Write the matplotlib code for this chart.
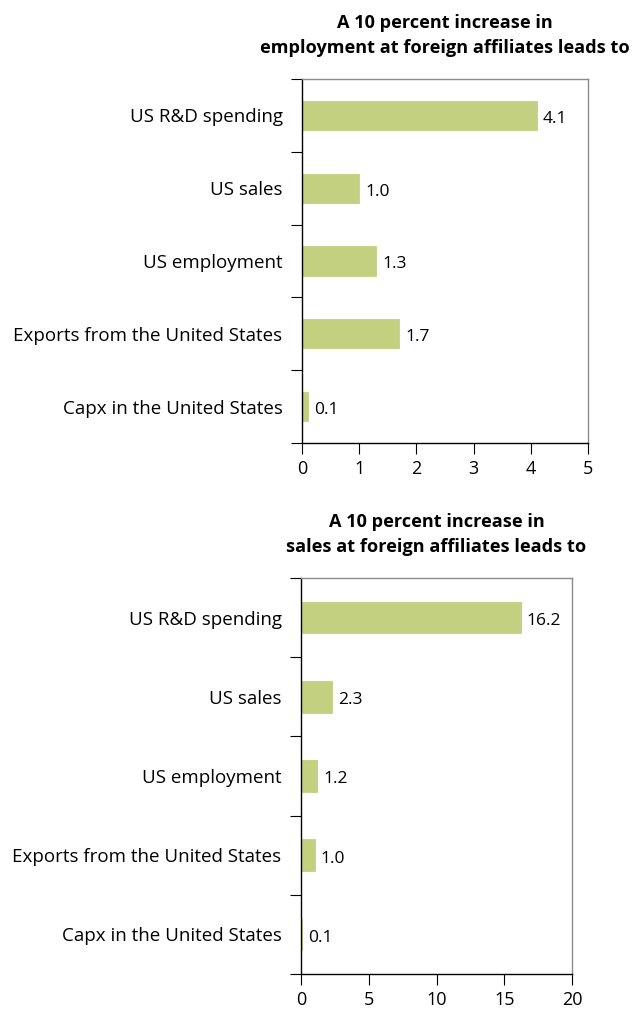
import matplotlib.pyplot as plt
import numpy as np

plt.rcParams['font.family'] = ['Open Sans', 'DejaVu Sans']

categories = ["US R&D spending", "US sales", "US employment",
              "Exports from the United States", "Capx in the United States"]
employment_effect = [4.1, 1.0, 1.3, 1.7, 0.1]
sales_effect = [16.2, 2.3, 1.2, 1.0, 0.1]

titles = ["A 10 percent increase in\nemployment at foreign affiliates leads to",
          "A 10 percent increase in\nsales at foreign affiliates leads to"]
xlims = [5, 20]
xticks = [[0, 1, 2, 3, 4, 5], [0, 5, 10, 15, 20]]

bar_color = "#c2d07f"

W, H = 633, 1011
fig = plt.figure(figsize=(W / 100, H / 100), dpi=100)

# axes boxes in pixels: left, top, right, bottom
boxes = [(302, 79, 588, 443), (301, 578, 572, 974)]


def draw_panel(ax, values, title, xmax, ticks):
    y = np.arange(len(categories))
    ax.barh(y, values, height=0.4, color=bar_color, edgecolor=bar_color, linewidth=0.6)
    for yi, v in zip(y, values):
        ax.annotate(f"{v:.1f}", (v, yi), xytext=(4.5, -1), textcoords="offset points",
                    va="center_baseline", ha="left", fontsize=12.5)
    ax.set_ylim(len(categories) - 0.5, -0.5)
    ax.set_xlim(0, xmax)
    ax.set_yticks(y)
    ax.set_yticklabels(categories, fontsize=13.5)
    ax.tick_params(axis="y", which="major", length=0, pad=14)
    ax.set_yticks(np.arange(-0.5, len(categories)), minor=True)
    ax.tick_params(axis="y", which="minor", length=8, width=0.8, direction="out")
    ax.set_xticks(ticks)
    ax.set_xticklabels([str(t) for t in ticks], fontsize=13)
    ax.tick_params(axis="x", length=8, width=0.8, direction="out", pad=4)
    ax.spines["left"].set_color("black")
    ax.spines["bottom"].set_color("black")
    ax.spines["top"].set_color("#8a8a8a")
    ax.spines["right"].set_color("#8a8a8a")
    for s in ax.spines.values():
        s.set_linewidth(1.0)
    ax.set_title(title, fontsize=13.1, fontweight="bold", pad=19, linespacing=1.5)


for (l, t, r, b), vals, title, xmax, ticks in zip(
        boxes, [employment_effect, sales_effect], titles, xlims, xticks):
    ax = fig.add_axes([l / W, 1 - b / H, (r - l) / W, (b - t) / H])
    draw_panel(ax, vals, title, xmax, ticks)

fig.savefig("out.png", dpi=100)
